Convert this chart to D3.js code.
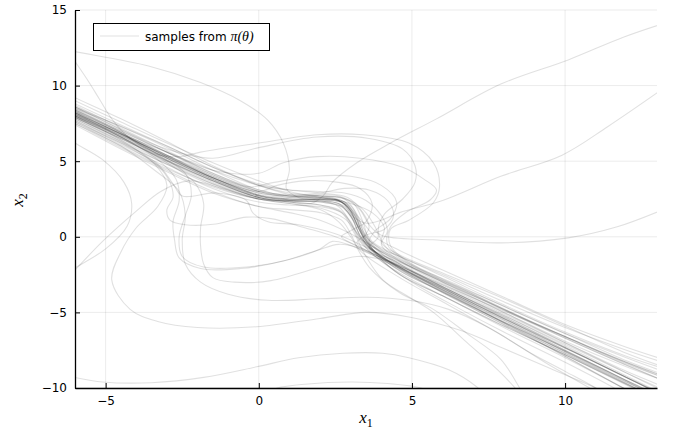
<!DOCTYPE html>
<html><head><meta charset="utf-8">
<script src="https://cdn.jsdelivr.net/npm/d3@7"></script>
<style>body{margin:0;background:#fff}</style>
</head><body>
<svg id="c" width="675" height="430"></svg>
<script>
// ---------- data ----------
const xTicks = [-5, 0, 5, 10];
const yTicks = [-10, -5, 0, 5, 10, 15];
const xDomain = [-6, 13];
const yDomain = [-10, 15];
const legendText = "samples from ";
const legendMath = "π(θ)";

// dense (overlapping) samples and how many near-identical draws each represents
const denseA = [[-6.2,8.4],[-6,8.2],[-4.5,6.8],[-3,5.3],[-1.5,3.9],[0,2.75],[1,2.5],[2,2.5],[2.6,2.4],[3.0,1.7],[3.3,0.4],[3.7,-0.8],[4.6,-2.0],[6,-3.4],[8,-5.4],[10,-7.35],[12,-9.3],[13,-10.3]];
const denseB = [[-6.2,8.1],[-6,7.9],[-4.5,6.5],[-3,5.05],[-1.5,3.7],[0,2.6],[1,2.35],[2,2.35],[2.6,2.2],[3.0,1.4],[3.3,0.1],[3.8,-1.1],[4.6,-2.5],[6,-3.9],[8,-5.9],[10,-7.8],[12,-9.75],[13,-10.7]];
const denseC = [[-6.2,8.3],[-6,8.1],[-4.5,6.7],[-3,5.2],[-1.5,3.8],[0,2.7],[1,2.45],[2,2.45],[2.7,2.3],[3.1,1.5],[3.4,0.2],[3.8,-1.0],[4.6,-2.25],[6,-3.65],[8,-5.65],[10,-7.55],[12,-9.5],[13,-10.5]];
const denseCounts = [3, 2, 2];

// individual samples
const b1  = [[-6.2,9.4],[-6,9.2],[-4.5,7.8],[-3,6.3],[-1.5,4.7],[0,3.4],[1,2.9],[2,2.7],[2.8,2.3],[3.3,1.0],[3.7,-0.3],[4.6,-1.3],[6,-2.5],[8,-4.3],[10,-6.0],[12,-7.5],[13.2,-8.3]];
const b2  = [[-6.2,8.8],[-6,8.6],[-4.5,7.3],[-3,5.9],[-1.5,4.4],[0,3.1],[1,2.7],[2,2.7],[2.8,2.5],[3.2,1.5],[3.5,0.0],[4.0,-0.8],[4.6,-1.3],[6,-2.6],[8,-4.5],[10,-6.3],[12,-7.9],[13.2,-8.7]];
const b3  = [[-6.2,7.9],[-6,7.7],[-4.5,6.1],[-3,4.6],[-1.5,3.2],[0,2.3],[1,2.1],[2,2.0],[2.7,1.6],[3.1,0.6],[3.5,-0.6],[4.6,-2.0],[6,-3.6],[8,-5.7],[10,-7.9],[11.9,-10],[12.5,-10.6]];
const b4  = [[-6.2,7.6],[-6,7.4],[-4.5,5.8],[-3,4.3],[-1.5,2.9],[0,2.0],[1,1.6],[2,1.1],[3,0.2],[4,-1.0],[5,-2.3],[6.5,-3.9],[8,-5.4],[10,-7.5],[11.5,-9.0],[12.6,-10.2]];
const b5  = [[-6.2,8.6],[-6,8.4],[-4.5,7.0],[-3,5.6],[-1.5,4.2],[0,3.0],[1,2.6],[2,2.6],[2.5,2.5],[2.9,2.0],[3.2,0.8],[3.5,-0.3],[4.2,-1.2],[6,-3.0],[8,-5.0],[10,-7.0],[12,-9.0],[13.2,-10.2]];
const b6  = [[-6.2,8.5],[-6,8.3],[-4.5,6.9],[-3,5.4],[-1.5,3.9],[0,2.9],[1,2.7],[2,2.8],[2.6,2.7],[3.1,2.2],[3.4,1.0],[3.6,-0.2],[4.2,-1.4],[6,-3.3],[8,-5.2],[10,-7.2],[12,-9.2],[13.2,-10.4]];
const b7  = [[-6.2,8.1],[-6,7.9],[-4.5,6.4],[-3,4.9],[-1.5,3.5],[0,2.5],[1,2.3],[2,2.1],[2.6,1.8],[3.0,1.0],[3.3,-0.2],[3.8,-1.3],[4.6,-2.4],[6,-3.9],[8,-6.0],[10,-8.0],[11.9,-10],[12.3,-10.4]];
const b8  = [[-6.2,8.2],[-6,8.0],[-4.5,6.7],[-3,5.4],[-1.5,4.1],[0,3.0],[1,2.7],[2,2.7],[2.7,2.6],[3.3,2.0],[3.7,1.0],[3.9,0.0],[3.6,-0.7],[4.0,-1.4],[5,-2.3],[6.5,-3.6],[8,-4.9],[10,-6.6],[12,-8.3],[13.2,-9.2]];
const b9  = [[-6.2,8.3],[-6,8.1],[-4.5,6.8],[-3,5.6],[-1.5,4.4],[0,3.4],[1,3.1],[2,3.0],[2.8,2.9],[3.5,2.4],[4.0,1.4],[4.2,0.4],[4.0,-0.5],[4.4,-1.3],[5.5,-2.5],[7,-3.9],[9,-5.8],[11,-7.6],[13.2,-9.5]];
const b10 = [[-6.2,8.7],[-6,8.5],[-4.5,7.3],[-3,6.0],[-1.5,4.6],[0,3.4],[1,2.8],[2,2.5],[2.8,2.2],[3.3,1.2],[3.8,0.0],[4.6,-0.9],[6,-2.2],[8,-4.0],[10,-5.8],[12,-7.3],[13.2,-8.1]];
const b11 = [[-6.2,8.4],[-6,8.2],[-4.5,6.6],[-3,5.0],[-1.5,3.6],[0,2.6],[1,2.4],[2,2.3],[2.7,2.0],[3.2,0.8],[3.6,-0.4],[4.6,-1.5],[6,-2.9],[8,-4.8],[10,-6.6],[12,-8.4],[13.2,-9.3]];
const b12 = [[-6.2,7.8],[-6,7.6],[-4.5,6.0],[-3,4.5],[-1.5,3.3],[0,2.5],[1,2.4],[2,2.4],[2.6,2.0],[3.0,0.9],[3.3,-0.3],[4.0,-1.6],[5,-3.0],[6.5,-4.7],[8,-6.3],[10,-8.3],[11.6,-10],[12,-10.5]];
const b13 = [[-6.2,9.0],[-6,8.8],[-4.5,7.4],[-3,6.0],[-1.5,4.6],[0,3.5],[1,3.1],[2,2.9],[2.9,2.6],[3.4,1.6],[3.6,0.6],[3.4,-0.2],[3.8,-1.0],[4.6,-1.7],[6,-3.1],[8,-5.0],[10,-6.9],[12,-8.6],[13.2,-9.5]];
const b14 = [[-6.2,9.2],[-6,9.0],[-4.5,7.6],[-3,6.2],[-1.5,4.9],[0,3.7],[1,3.0],[2,2.6],[3,2.2],[3.7,1.6],[4.1,0.6],[4.0,-0.4],[4.6,-1.2],[6,-2.4],[8,-4.1],[10,-5.9],[12,-7.7],[13.2,-8.6]];
const b15 = [[-6.2,8.0],[-6,7.8],[-4.5,6.3],[-3,4.8],[-1.5,3.4],[0,2.5],[1,2.4],[2,2.5],[2.7,2.4],[3.1,1.8],[3.3,0.6],[3.5,-0.5],[4.2,-1.6],[5.5,-3.0],[7,-4.6],[9,-6.7],[11,-8.7],[12.3,-10],[12.6,-10.3]];
const b16 = [[-6.2,7.7],[-6,7.5],[-4.5,5.9],[-3,4.4],[-1.5,3.0],[0,2.0],[1,1.8],[2,1.6],[2.7,1.1],[3.0,0.2],[3.3,-0.9],[4.6,-2.7],[6,-4.3],[8,-6.6],[9.5,-8.5],[10.8,-10],[11.2,-10.5]];
const b17 = [[-6.2,8.9],[-6,8.7],[-4.5,7.2],[-3,5.7],[-1.5,4.2],[0,3.1],[1,2.7],[2,2.6],[2.8,2.3],[3.2,1.2],[3.6,-0.2],[4.6,-1.6],[6,-3.0],[8,-4.8],[10,-6.7],[12,-8.5],[13.2,-9.5]];
const s1  = [[-6.2,8.5],[-6,8.3],[-4.5,6.8],[-3,5.4],[-1.5,4.0],[0,3.0],[1,2.8],[2,2.9],[2.8,3.2],[3.6,3.1],[4.2,2.4],[4.4,1.4],[4.1,0.5],[3.5,0.1],[3.2,-0.4],[3.6,-1.0],[4.6,-1.9],[6,-3.3],[8,-5.3],[10,-7.3],[12,-9.3],[13.2,-10.4]];
const s2  = [[-6.2,8.2],[-6,8.0],[-4.5,6.6],[-3,5.2],[-1.5,3.9],[0,3.0],[0.6,3.4],[1.5,3.7],[2.6,3.6],[3.3,3.2],[3.7,2.2],[3.5,1.0],[3.0,0.4],[2.7,0.0],[3.2,-0.6],[4.0,-1.4],[5,-2.5],[6.5,-4.0],[8,-5.6],[10,-7.6],[12,-9.6],[13.2,-10.8]];
const s3  = [[-6.2,8.7],[-6,8.5],[-4.5,7.0],[-3,5.6],[-1.5,4.4],[0,4.2],[0.8,4.9],[1.9,5.3],[3.3,5.2],[4.7,4.6],[5.4,3.8],[5.8,3.1],[5.6,2.45],[4.8,1.6],[4.3,0.66],[4.2,-0.5],[4.8,-1.6],[6,-2.8],[8,-4.6],[10,-6.4],[12,-8.2],[13.2,-9.1]];
const s4  = [[-6.2,8.8],[-6,8.6],[-4.5,7.1],[-3,5.6],[-1.5,4.1],[-0.3,3.3],[0.5,3.6],[1.8,4.0],[3.0,4.0],[4.0,3.4],[4.5,2.3],[4.3,1.2],[3.8,0.4],[3.6,-0.4],[4.2,-1.2],[5.2,-2.2],[7,-3.8],[9,-5.7],[11,-7.5],[13.2,-9.3]];
const loopE  = [[-6.2,8.6],[-6,8.4],[-4.5,6.9],[-3.4,5.5],[-2.6,5.3],[-1.9,5.6],[0,6.2],[1.9,6.75],[3.4,6.75],[4.9,6.2],[5.7,4.9],[5.9,3.3],[5.7,2.25],[4.9,1.1],[4.3,0.5],[4.3,-0.6],[5,-1.8],[6.5,-3.2],[8,-4.6],[10,-6.4],[12,-8.0],[13.2,-8.9]];
const loopE2 = [[-6.2,8.8],[-6,8.6],[-4.5,7.1],[-3,5.8],[-1.5,5.2],[0,5.9],[1.9,6.6],[3.6,6.5],[4.7,5.8],[5.1,4.7],[5.1,3.6],[4.7,2.5],[4.1,1.5],[3.9,0.4],[4.2,-0.8],[5,-1.9],[6.5,-3.3],[8,-4.8],[10,-6.6],[12,-8.3],[13.2,-9.2]];
const loopF1 = [[-6.2,7.9],[-6,7.7],[-4.5,6.2],[-3.3,4.7],[-2.9,3.6],[-2.8,2.6],[-3.0,1.8],[-2.9,1.1],[-2.4,0.8],[-1.4,0.85],[-0.4,1.3],[0.4,1.2],[1.5,0.6],[2.5,0.0],[3.3,-0.7],[4.6,-2.0],[6,-3.5],[8,-5.5],[10,-7.6],[12,-9.6],[13.2,-10.7]];
const loopF2 = [[-6.2,8.0],[-6,7.8],[-4.5,6.3],[-3.3,4.8],[-2.8,3.5],[-2.5,2.7],[-1.4,2.9],[-0.4,2.4],[-0.2,1.6],[0.3,1.0],[1.3,0.8],[2.5,0.2],[3.4,-0.6],[4.6,-1.8],[6,-3.3],[8,-5.2],[10,-7.1],[12,-9.0],[13.2,-10.1]];
const lowG1 = [[-6.2,8.2],[-6,8.0],[-4.5,6.6],[-3.3,5.1],[-2.7,3.8],[-2.6,2.4],[-2.8,1.0],[-2.75,-0.2],[-2.6,-1.4],[-1.9,-2.1],[-0.6,-2.1],[0.8,-1.6],[1.9,-0.9],[2.6,-0.5],[3.2,-0.7],[4.0,-1.5],[5,-2.5],[6.5,-4.0],[8,-5.5],[10,-7.5],[12,-9.5],[13.2,-10.6]];
const lowG2 = [[-6.2,8.5],[-6,8.3],[-4.5,6.9],[-3.2,5.3],[-2.4,4.2],[-2.2,2.8],[-2.4,1.4],[-2.6,0.0],[-2.5,-1.3],[-1.8,-2.0],[-0.4,-2.0],[1.0,-1.5],[2.0,-0.8],[2.4,-0.3],[2.9,-0.5],[3.8,-1.3],[5,-2.6],[6.5,-4.1],[8,-5.7],[10,-7.7],[12,-9.7],[13.2,-10.9]];
const lowH = [[-6.2,8.3],[-6,8.1],[-4.5,6.6],[-3.0,4.9],[-2.1,3.6],[-1.8,2.2],[-1.9,0.6],[-1.9,-0.6],[-1.8,-1.8],[-1.5,-2.7],[-0.8,-3.0],[0.4,-2.9],[2.0,-2.0],[3.2,-1.3],[4.2,-1.6],[5.5,-2.8],[7,-4.3],[9,-6.3],[11,-8.3],[12.7,-10],[13,-10.3]];
const lowI = [[-6.2,7.7],[-6,7.5],[-4.5,6.0],[-3.4,4.4],[-2.6,3.0],[-2.4,1.4],[-2.5,-0.2],[-2.4,-1.8],[-1.9,-3.0],[-1.0,-3.8],[0.3,-4.2],[2.0,-4.1],[3.5,-4.0],[4.9,-4.2],[6.2,-4.8],[7.5,-6.0],[8.8,-7.6],[10,-8.9],[11,-10],[11.3,-10.4]];
const lowJ = [[-6.2,8.2],[-6,8.0],[-4.5,6.4],[-3.4,4.8],[-3.0,3.4],[-3.3,2.0],[-4.0,0.6],[-4.5,-1.0],[-4.8,-2.85],[-4.2,-4.8],[-3.3,-5.6],[-2.0,-6.0],[-0.07,-5.95],[2.0,-5.4],[3.5,-5.0],[4.9,-5.3],[6.6,-6.2],[7.9,-7.3],[9.5,-8.7],[11,-10],[11.4,-10.4]];
const edgeK = [[-6.2,-2.6],[-6,-2.2],[-5.1,-0.3],[-4.0,1.7],[-3.2,3.0],[-2.3,3.7],[-1.2,3.2],[0,2.5],[1,2.2],[2,1.9],[2.8,1.2],[3.3,0.0],[3.8,-1.0],[4.6,-2.1],[6,-3.7],[8,-5.8],[10,-7.9],[11.9,-10],[12.2,-10.3]];
const edgeL = [[-6.2,6.5],[-6,6.2],[-5.1,5.1],[-4.4,3.6],[-4.15,2.2],[-4.3,0.7],[-5,-0.8],[-6,-2.05],[-6.2,-2.3]];
const bottomM = [[-6.2,-9.2],[-6,-9.3],[-5.1,-9.6],[-3.5,-9.65],[-1.8,-9.3],[-0.07,-8.6],[1.3,-8.0],[2.75,-7.7],[4.05,-7.7],[4.9,-8.0],[6.2,-8.8],[7.1,-9.9],[7.3,-10.3]];
const bottomN = [[0.4,-10.2],[0.6,-10],[1.5,-9.75],[3,-9.6],[4.2,-9.7],[5.3,-10],[5.5,-10.2]];
const steepO = [[-6.2,8.1],[-6,7.9],[-4.5,6.5],[-3,5.0],[-1.5,3.7],[0,2.6],[1,2.3],[2,2.1],[2.7,1.6],[3.1,0.3],[3.5,-1.3],[4.05,-2.85],[5.0,-4.1],[5.7,-5.0],[6.8,-7.0],[7.9,-9.0],[8.5,-10.3]];
const steepO2 = [[-6.2,7.8],[-6,7.6],[-4.5,6.2],[-3,4.8],[-1.5,3.5],[0,2.5],[1,2.2],[2,1.8],[2.6,1.0],[3.0,0.0],[3.6,-2.0],[4.6,-3.7],[5.7,-4.8],[6.8,-6.4],[7.9,-8.1],[8.4,-9.6],[8.6,-10.3]];
const upA = [[-6.2,8.2],[-6,8.0],[-4.5,6.6],[-3,5.1],[-1.5,3.7],[0,2.6],[1,2.3],[1.7,2.2],[2.1,2.7],[2.4,3.6],[3.2,4.9],[4.3,6.2],[5.8,7.8],[7.9,10.1],[10.1,11.7],[11.9,13.2],[13.2,14.1]];
const upB = [[-6.2,8.4],[-6,8.2],[-4.5,6.8],[-3,5.3],[-1.5,3.9],[0,2.8],[1,2.6],[2,2.6],[2.7,2.3],[3.1,1.3],[3.5,0.9],[4.0,1.1],[4.6,1.6],[6.0,2.4],[7.9,4.0],[9.9,5.4],[11.4,7.3],[13.2,9.8]];
const rightC = [[-6.2,8.6],[-6,8.4],[-4.5,6.9],[-3,5.4],[-1.5,4.0],[0,2.9],[1,2.7],[2,2.7],[2.8,2.5],[3.3,1.8],[3.6,0.8],[4.0,0.1],[5.7,-0.2],[7.9,-0.4],[10.1,-0.07],[11.7,0.66],[13.2,1.8]];
const topD = [[-6.2,12.35],[-6,12.25],[-3.6,11.3],[-1.9,10.2],[-0.6,9.0],[0.3,7.7],[0.8,6.2],[1.0,4.5],[0.9,3.2],[1.3,2.6],[2.2,2.4],[2.8,2.0],[3.3,0.6],[3.8,-0.8],[4.6,-1.8],[6,-3.2],[8,-5.1],[10,-7.0],[12,-8.9],[13.2,-9.9]];
const topT = [[-6.1,11.9],[-6,11.6],[-5.6,10.4],[-5.2,9.1],[-4.8,7.8],[-4.2,6.5],[-3,5.2],[-1.5,3.8],[0,2.7],[1,2.4],[2,2.3],[2.7,2.0],[3.1,1.0],[3.4,-0.3],[4.0,-1.3],[5,-2.6],[6.5,-4.2],[8,-5.8],[10,-7.8],[12,-9.8],[13,-10.8]];

const samples = [b1,b2,b3,b4,b5,b6,b7,b8,b9,b10,b11,b12,b13,b14,b15,b16,b17,
  s1,s2,s3,s4,loopE,loopE2,loopF1,loopF2,lowG1,lowG2,lowH,lowI,lowJ,edgeK,edgeL,
  bottomM,bottomN,steepO,steepO2,upA,upB,rightC,topD,topT];
const denseSamples = [denseA, denseB, denseC];

// ---------- drawing ----------
const W = 675, H = 430;
const L = 75, R = 657, T = 10, B = 388;
const svg = d3.select("#c");
svg.append("rect").attr("width", W).attr("height", H).attr("fill", "#fff");

const x = d3.scaleLinear().domain(xDomain).range([L, R]);
const y = d3.scaleLinear().domain(yDomain).range([B, T]);

// grid
const grid = svg.append("g").attr("stroke", "#000").attr("stroke-opacity", 0.1).attr("stroke-width", 0.8);
grid.selectAll("line.gx").data(xTicks).join("line")
  .attr("x1", d => x(d)).attr("x2", d => x(d)).attr("y1", T).attr("y2", B);
grid.selectAll("line.gy").data(yTicks).join("line")
  .attr("x1", L).attr("x2", R).attr("y1", d => y(d)).attr("y2", d => y(d));

// clip
svg.append("clipPath").attr("id", "clip").append("rect")
  .attr("x", L).attr("y", T).attr("width", R - L).attr("height", B - T);

const line = d3.line().x(d => x(d[0])).y(d => y(d[1])).curve(d3.curveCatmullRom.alpha(0.5));
const lines = svg.append("g").attr("clip-path", "url(#clip)")
  .attr("fill", "none").attr("stroke", "#000").attr("stroke-opacity", 0.12).attr("stroke-width", 1.1);
lines.selectAll("path.s").data(samples).join("path").attr("class", "s").attr("d", line);
const denseDraws = [];
denseSamples.forEach((s, i) => { for (let k = 0; k < denseCounts[i]; k++) denseDraws.push(s); });
lines.selectAll("path.d").data(denseDraws).join("path").attr("class", "d").attr("d", line);

// axes
const fontTick = "12px 'DejaVu Sans', sans-serif";
const xAxis = d3.axisBottom(x).tickValues(xTicks).tickSize(-5).tickPadding(8).tickSizeOuter(0);
const yAxis = d3.axisLeft(y).tickValues(yTicks).tickSize(-5).tickPadding(8).tickSizeOuter(0);
const gx = svg.append("g").attr("transform", `translate(0,${B})`).call(xAxis);
const gy = svg.append("g").attr("transform", `translate(${L},0)`).call(yAxis);
[gx, gy].forEach(g => {
  g.select(".domain").attr("stroke", "#000").attr("stroke-width", 1.3);
  g.selectAll(".tick line").attr("stroke", "#000").attr("stroke-width", 1);
  g.selectAll(".tick text").attr("fill", "#000").style("font", fontTick);
});

// axis labels
const mathFont = "'Liberation Serif', 'DejaVu Serif', serif";
const xl = svg.append("text").attr("x", 366).attr("y", 423).attr("text-anchor", "middle")
  .style("font-family", mathFont).style("font-size", "17px");
xl.append("tspan").style("font-style", "italic").text("x");
xl.append("tspan").attr("dy", 4).style("font-size", "12px").text("1");

const yl = svg.append("text").attr("transform", "translate(23,200) rotate(-90)").attr("text-anchor", "middle")
  .style("font-family", mathFont).style("font-size", "17px");
yl.append("tspan").style("font-style", "italic").text("x");
yl.append("tspan").attr("dy", 4).style("font-size", "12px").text("2");

// legend
const lg = svg.append("g");
lg.append("rect").attr("x", 93.5).attr("y", 23.5).attr("width", 176).attr("height", 27)
  .attr("fill", "#fff").attr("stroke", "#000").attr("stroke-width", 1);
lg.append("line").attr("x1", 100).attr("x2", 139).attr("y1", 36).attr("y2", 36)
  .attr("stroke", "#000").attr("stroke-opacity", 0.12).attr("stroke-width", 1.1);
const lt = lg.append("text").attr("x", 145).attr("y", 40.5)
  .style("font", "12px 'DejaVu Sans', sans-serif").attr("fill", "#000");
lt.append("tspan").text(legendText);
lt.append("tspan").style("font-family", mathFont).style("font-style", "italic").style("font-size", "14px").text(legendMath);
</script>
</body></html>
